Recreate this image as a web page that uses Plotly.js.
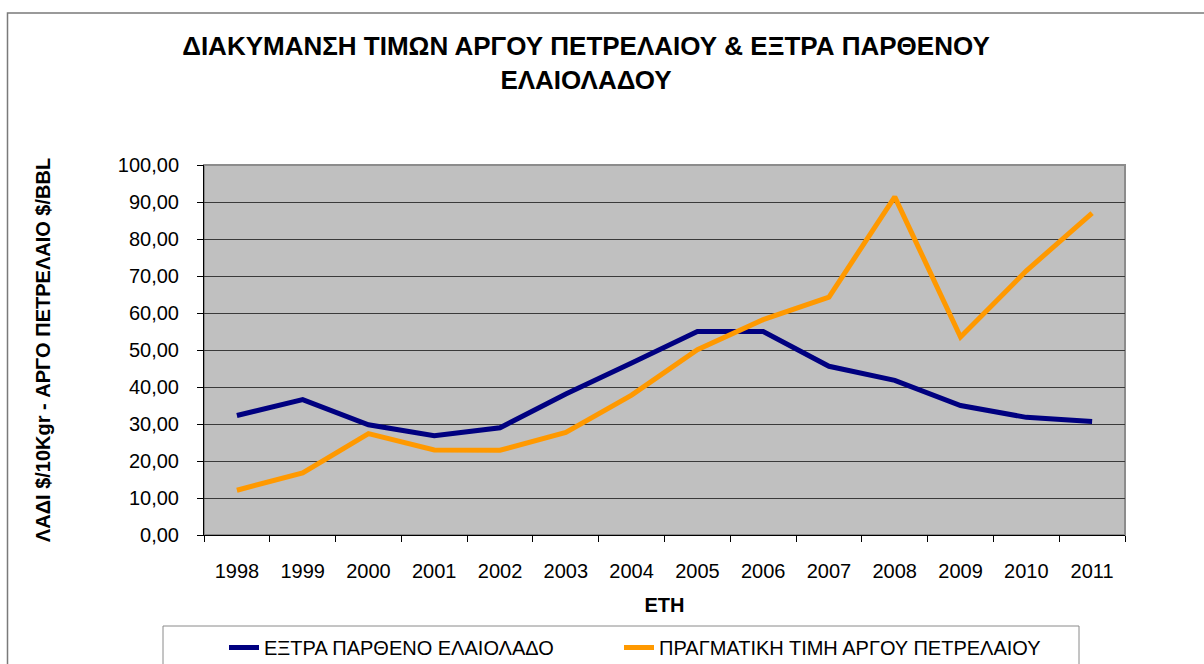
<!DOCTYPE html>
<html>
<head>
<meta charset="utf-8">
<script src="https://cdn.plot.ly/plotly-3.0.1.min.js"></script>
<style>
html,body{margin:0;padding:0;background:#fff;}
#chart{width:1204px;height:664px;}
</style>
</head>
<body>
<div id="chart"></div>
<script>
const years = ['1998','1999','2000','2001','2002','2003','2004','2005','2006','2007','2008','2009','2010','2011'];
const oliveOil = [32.3, 36.6, 29.8, 26.8, 29.0, 38.1, 46.5, 55.0, 55.0, 45.6, 41.8, 35.0, 31.8, 30.7];
const crudeOil = [12.1, 16.8, 27.4, 23.0, 22.9, 27.7, 37.8, 50.1, 58.2, 64.3, 91.4, 53.5, 71.4, 87.0];
const seriesNames = ['ΕΞΤΡΑ ΠΑΡΘΕΝΟ ΕΛΑΙΟΛΑΔΟ', 'ΠΡΑΓΜΑΤΙΚΗ ΤΙΜΗ ΑΡΓΟΥ ΠΕΤΡΕΛΑΙΟΥ'];
const titleText = 'ΔΙΑΚΥΜΑΝΣΗ ΤΙΜΩΝ ΑΡΓΟΥ ΠΕΤΡΕΛΑΙΟΥ & ΕΞΤΡΑ ΠΑΡΘΕΝΟΥ<br>ΕΛΑΙΟΛΑΔΟΥ';
const xTitle = 'ΕΤΗ';
const yTitle = 'ΛΑΔΙ $/10Kgr - ΑΡΓΟ ΠΕΤΡΕΛΑΙΟ $/BBL';

const W = 1204, H = 664;
const L = 204, R = 1125, T = 165, B = 535;
const pw = R - L, ph = B - T;
const px = x => (x - L) / pw;
const py = y => (B - y) / ph;

const font = 'Liberation Sans, Arial, sans-serif';

const traces = [
  {x: years, y: oliveOil, name: seriesNames[0], type: 'scatter', mode: 'lines',
   line: {color: '#000080', width: 5}, legend: 'legend'},
  {x: years, y: crudeOil, name: seriesNames[1], type: 'scatter', mode: 'lines',
   line: {color: '#FF9900', width: 5}, legend: 'legend2'}
];

const legendCommon = {
  orientation: 'h',
  xanchor: 'left',
  y: py(628), yanchor: 'top',
  bgcolor: 'rgba(0,0,0,0)',
  borderwidth: 0,
  font: {family: font, size: 20},
  itemwidth: 30
};

const layout = {
  width: W, height: H,
  margin: {l: L, r: W - R, t: T, b: H - B, pad: 0, autoexpand: false},
  paper_bgcolor: 'rgba(0,0,0,0)',
  plot_bgcolor: '#C0C0C0',
  separators: ',.',
  font: {family: font, size: 20, color: '#000'},
  title: {
    text: titleText,
    font: {family: font, size: 26, color: '#000', weight: 'bold'},
    xref: 'container', yref: 'container',
    x: 586 / W, xanchor: 'center',
    y: 1 - 55 / H, yanchor: 'middle'
  },
  xaxis: {
    type: 'category',
    range: [-0.5, years.length - 0.5],
    tickson: 'boundaries',
    ticks: 'outside', ticklen: 6, tickcolor: '#000', tickwidth: 1,
    showline: true, linecolor: '#000', linewidth: 1,
    showgrid: false, zeroline: false,
    ticklabelstandoff: 18,
    tickfont: {family: font, size: 20},
    title: {text: xTitle, font: {family: font, size: 20, weight: 'bold'}, standoff: 16},
    automargin: false
  },
  yaxis: {
    range: [0, 100], dtick: 10, tickformat: '.2f',
    ticks: 'outside', ticklen: 6, tickcolor: '#000', tickwidth: 1,
    showline: true, linecolor: '#000', linewidth: 1,
    showgrid: true, gridcolor: '#3a3a3a', gridwidth: 1,
    zeroline: false,
    ticklabelstandoff: 14,
    tickfont: {family: font, size: 20},
    title: {text: yTitle, font: {family: font, size: 20, weight: 'bold'}, standoff: 61},
    automargin: false
  },
  showlegend: true,
  legend: Object.assign({}, legendCommon, {x: px(224)}),
  legend2: Object.assign({}, legendCommon, {x: px(619)}),
  shapes: [
    // outer chart frame
    {type: 'rect', xref: 'paper', yref: 'paper', layer: 'below',
     x0: px(7.5), x1: px(1260), y0: py(720), y1: py(13),
     line: {color: '#7a7a7a', width: 1.5}, fillcolor: 'rgba(0,0,0,0)'},
    // plot area frame
    {type: 'rect', xref: 'paper', yref: 'paper', layer: 'below',
     x0: 0, x1: 1, y0: 0, y1: 1,
     line: {color: '#8c8c8c', width: 2}, fillcolor: 'rgba(0,0,0,0)'},
    // legend box
    {type: 'rect', xref: 'paper', yref: 'paper', layer: 'below',
     x0: px(163), x1: px(1079), y0: py(700), y1: py(626),
     line: {color: '#8a8a8a', width: 1}, fillcolor: 'rgba(0,0,0,0)'}
  ]
};

Plotly.newPlot('chart', traces, layout, {displayModeBar: false, staticPlot: true});
</script>
</body>
</html>
